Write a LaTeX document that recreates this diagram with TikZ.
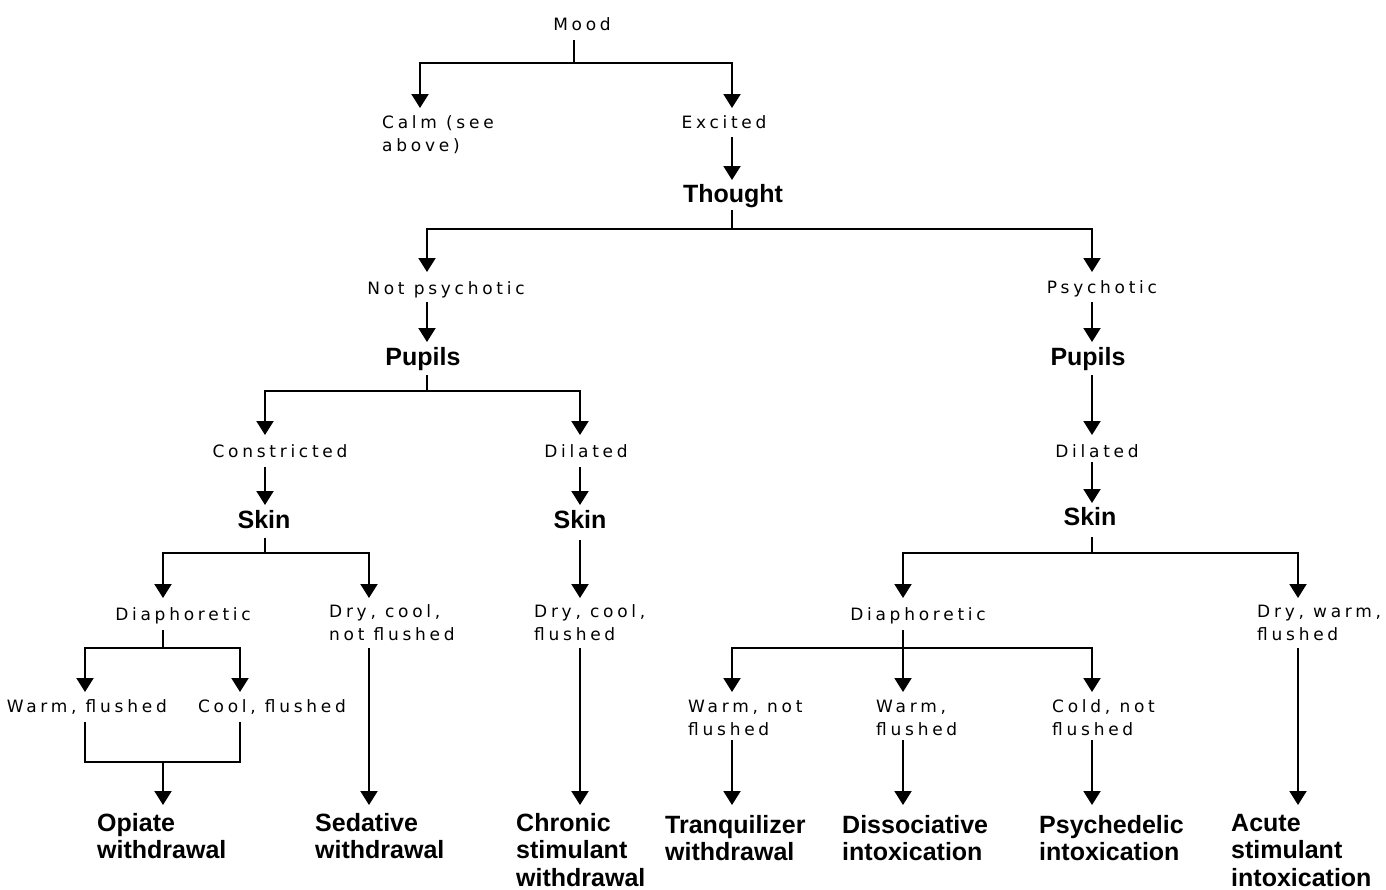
\documentclass[tikz,border=0pt]{standalone}
\usepackage{fontspec}
\usetikzlibrary{arrows.meta}
\newfontfamily\lblfam[LetterSpace=22]{DejaVu Sans}
\newfontfamily\bldfam{Liberation Sans}
\tikzset{
  lbl/.style={font=\lblfam\fontsize{17}{23}\selectfont, inner sep=0pt, align=left},
  bld/.style={font=\bldfam\bfseries\fontsize{25}{27.5}\selectfont, inner sep=0pt, align=left},
  conn/.style={line width=2pt, draw=black, line join=miter},
  arr/.style={conn, -{Triangle[width=17pt,length=14pt]}},
}
\begin{document}
\begin{tikzpicture}[x=1pt,y=-1pt]
\useasboundingbox[fill=white] (0,0) rectangle (1386,889);

% ---------- nodes (multi-line nodes are anchored at the baseline of their last line) ----------
\node[lbl, anchor=base] (mood) at (582,30) {Mood};
\node[lbl, anchor=base west] (calm) at (382,151) {Calm (see\\above)};
\node[lbl, anchor=base] (exc) at (724,128) {Excited};
\node[bld, anchor=base] (thought) at (733,202) {Thought};
\node[lbl, anchor=base] (np) at (446,294) {Not psychotic};
\node[lbl, anchor=base] (ps) at (1102,293) {Psychotic};
\node[bld, anchor=base] (pl) at (423,365) {Pupils};
\node[bld, anchor=base] (pr) at (1088,365) {Pupils};
\node[lbl, anchor=base] (con) at (280,457) {Constricted};
\node[lbl, anchor=base] (dl) at (586,457) {Dilated};
\node[lbl, anchor=base] (dr) at (1097,457) {Dilated};
\node[bld, anchor=base] (skl) at (264,528) {Skin};
\node[bld, anchor=base] (skm) at (580,528) {Skin};
\node[bld, anchor=base] (skr) at (1090,525) {Skin};
\node[lbl, anchor=base] (dpl) at (183,620) {Diaphoretic};
\node[lbl, anchor=base west] (dcn) at (329,640) {Dry, cool,\\not flushed};
\node[lbl, anchor=base west] (dcf) at (534,640) {Dry, cool,\\flushed};
\node[lbl, anchor=base] (dpr) at (918,620) {Diaphoretic};
\node[lbl, anchor=base west] (dwf) at (1257,640) {Dry, warm,\\flushed};
\node[lbl, anchor=base east] (wf) at (167,712) {Warm, flushed};
\node[lbl, anchor=base] (cf) at (272,712) {Cool, flushed};
\node[lbl, anchor=base west] (wnf) at (688,735) {Warm, not\\flushed};
\node[lbl, anchor=base west] (wfl) at (876,735) {Warm,\\flushed};
\node[lbl, anchor=base west] (cnf) at (1052,735) {Cold, not\\flushed};
\node[bld, anchor=base west] (op) at (97,858.5) {Opiate\\withdrawal};
\node[bld, anchor=base west] (sed) at (315,858.5) {Sedative\\withdrawal};
\node[bld, anchor=base west] (chr) at (516,886) {Chronic\\stimulant\\withdrawal};
\node[bld, anchor=base west] (tr) at (665,860.5) {Tranquilizer\\withdrawal};
\node[bld, anchor=base west] (dis) at (842,860.5) {Dissociative\\intoxication};
\node[bld, anchor=base west] (psy) at (1039,860.5) {Psychedelic\\intoxication};
\node[bld, anchor=base west] (acu) at (1231,886) {Acute\\stimulant\\intoxication};

% ---------- connector points ----------
\coordinate (mood-o) at (574,40);  \coordinate (mood-j) at (574,63);
\coordinate (calm-i) at (420,108); \coordinate (exc-i) at (732,108);
\coordinate (exc-o) at (732,137);  \coordinate (th-i) at (732,180);
\coordinate (th-o) at (732,210);   \coordinate (th-j) at (732,229);
\coordinate (np-i) at (427,272);   \coordinate (ps-i) at (1092,272);
\coordinate (np-o) at (427,302);   \coordinate (pl-i) at (427,342);
\coordinate (ps-o) at (1092,302);  \coordinate (pr-i) at (1092,342);
\coordinate (pl-o) at (427,375);   \coordinate (pl-j) at (427,391);
\coordinate (con-i) at (265,435);  \coordinate (dl-i) at (580,435);
\coordinate (pr-o) at (1092,375);  \coordinate (dr-i) at (1092,435);
\coordinate (con-o) at (265,467);  \coordinate (skl-i) at (265,505);
\coordinate (dl-o) at (580,467);   \coordinate (skm-i) at (580,505);
\coordinate (dr-o) at (1092,462);  \coordinate (skr-i) at (1092,503);
\coordinate (skl-o) at (265,538);  \coordinate (skl-j) at (265,553);
\coordinate (dpl-i) at (163,598);  \coordinate (dcn-i) at (369,598);
\coordinate (skm-o) at (580,540);  \coordinate (dcf-i) at (580,598);
\coordinate (skr-o) at (1092,537); \coordinate (skr-j) at (1092,553);
\coordinate (dpr-i) at (903,598);  \coordinate (dwf-i) at (1298,598);
\coordinate (dpl-o) at (163,630);  \coordinate (dpl-j) at (163,648);
\coordinate (wf-i) at (85,692);    \coordinate (cf-i) at (240,692);
\coordinate (wf-o) at (85,722);    \coordinate (cf-o) at (240,722);
\coordinate (op-j) at (163,762);   \coordinate (op-i) at (163,805);
\coordinate (dcn-o) at (369,648);  \coordinate (sed-i) at (369,805);
\coordinate (dcf-o) at (580,648);  \coordinate (chr-i) at (580,805);
\coordinate (dpr-o) at (903,630);  \coordinate (dpr-j) at (903,648);
\coordinate (wnf-i) at (732,692);  \coordinate (wfl-i) at (903,692);
\coordinate (cnf-i) at (1092,692);
\coordinate (wnf-o) at (732,740);  \coordinate (tr-i) at (732,805);
\coordinate (wfl-o) at (903,740);  \coordinate (dis-i) at (903,805);
\coordinate (cnf-o) at (1092,740); \coordinate (psy-i) at (1092,805);
\coordinate (dwf-o) at (1298,648); \coordinate (acu-i) at (1298,805);

% ---------- connectors ----------
\draw[conn] (mood-o) -- (mood-j);
\draw[arr] (mood-j) -| (calm-i);
\draw[arr] (mood-j) -| (exc-i);
\draw[arr] (exc-o) -- (th-i);
\draw[conn] (th-o) -- (th-j);
\draw[arr] (th-j) -| (np-i);
\draw[arr] (th-j) -| (ps-i);
\draw[arr] (np-o) -- (pl-i);
\draw[arr] (ps-o) -- (pr-i);
\draw[conn] (pl-o) -- (pl-j);
\draw[arr] (pl-j) -| (con-i);
\draw[arr] (pl-j) -| (dl-i);
\draw[arr] (pr-o) -- (dr-i);
\draw[arr] (con-o) -- (skl-i);
\draw[arr] (dl-o) -- (skm-i);
\draw[arr] (dr-o) -- (skr-i);
\draw[conn] (skl-o) -- (skl-j);
\draw[arr] (skl-j) -| (dpl-i);
\draw[arr] (skl-j) -| (dcn-i);
\draw[arr] (skm-o) -- (dcf-i);
\draw[conn] (skr-o) -- (skr-j);
\draw[arr] (skr-j) -| (dpr-i);
\draw[arr] (skr-j) -| (dwf-i);
\draw[conn] (dpl-o) -- (dpl-j);
\draw[arr] (dpl-j) -| (wf-i);
\draw[arr] (dpl-j) -| (cf-i);
\draw[conn] (wf-o) |- (op-j) -| (cf-o);
\draw[arr] (op-j) -- (op-i);
\draw[arr] (dcn-o) -- (sed-i);
\draw[arr] (dcf-o) -- (chr-i);
\draw[conn] (dpr-o) -- (dpr-j);
\draw[arr] (dpr-j) -| (wnf-i);
\draw[arr] (dpr-j) -- (wfl-i);
\draw[arr] (dpr-j) -| (cnf-i);
\draw[arr] (wnf-o) -- (tr-i);
\draw[arr] (wfl-o) -- (dis-i);
\draw[arr] (cnf-o) -- (psy-i);
\draw[arr] (dwf-o) -- (acu-i);
\end{tikzpicture}
\end{document}
